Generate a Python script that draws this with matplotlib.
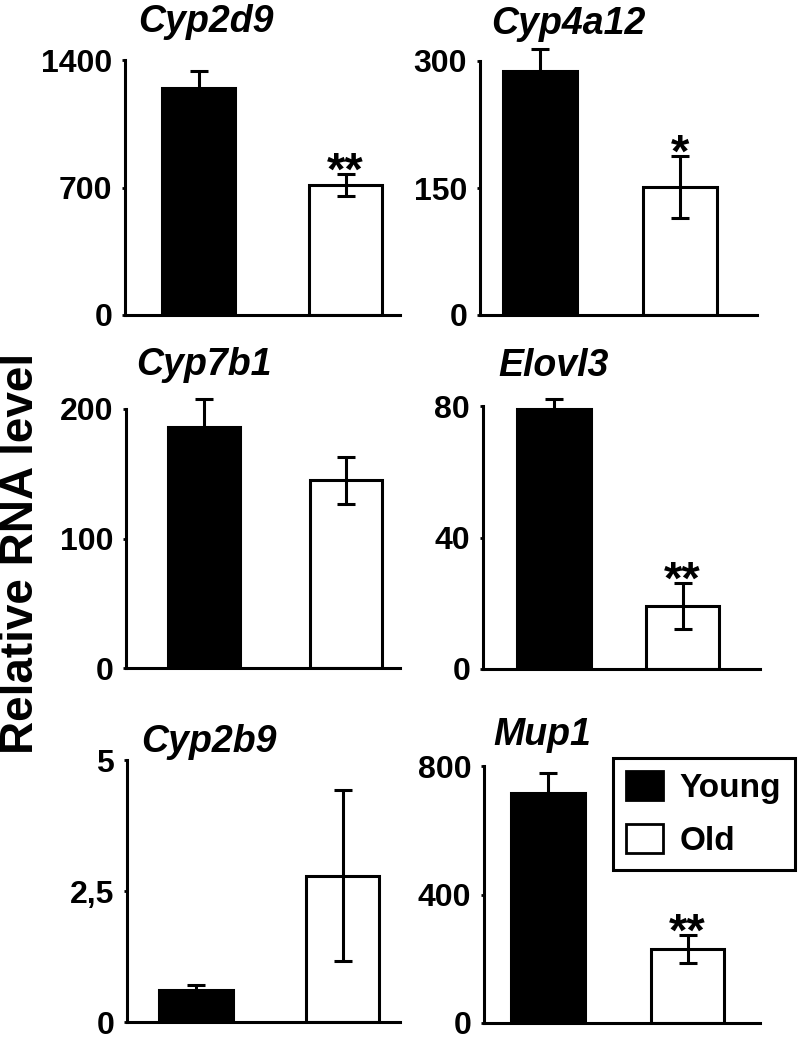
import matplotlib
matplotlib.use("Agg")
import matplotlib.pyplot as plt
from matplotlib.patches import Patch

plt.rcParams['font.family'] = ['Liberation Sans', 'DejaVu Sans']
plt.rcParams['font.weight'] = 'bold'

# data
genes = ["Cyp2d9", "Cyp4a12", "Cyp7b1", "Elovl3", "Cyp2b9", "Mup1"]
young_mean = [1246, 288, 186, 79, 0.61, 716]
young_err = [94, 26, 22, 3, 0.10, 62]
old_mean = [714, 151, 145, 19.2, 2.79, 230]
old_err = [60, 37, 18, 7, 1.63, 44]
stars = ["**", "*", "", "**", "", "**"]
yticks = [[0, 700, 1400], [0, 150, 300], [0, 100, 200],
          [0, 40, 80], [0, 2.5, 5], [0, 400, 800]]
ytick_labels = [["0", "700", "1400"], ["0", "150", "300"], ["0", "100", "200"],
                ["0", "40", "80"], ["0", "2,5", "5"], ["0", "400", "800"]]
groups = ["Young", "Old"]

W, H = 800, 1043
fig = plt.figure(figsize=(W / 100, H / 100), dpi=100)

# axes boxes in pixels: x_left, x_right, y_top, y_bottom
boxes = [(125, 400, 60, 315), (480, 757, 61, 315),
         (126, 400, 409, 668), (483, 760, 406, 669),
         (127, 400, 760, 1022), (484, 760, 766, 1023)]
xlims = [(-0.5, 1.37), (-0.43, 1.55), (-0.55, 1.38),
         (-0.55, 1.6), (-0.47, 1.39), (-0.46, 1.52)]
widths = [0.5, 0.53, 0.51, 0.57, 0.5, 0.53]
title_x = [0.05, 0.2, 0.0, 0.0, 0.09, -0.04]
title_dy = [28, 27, 34, 30, 8, 21]  # px above axes top (baseline)

for i in range(6):
    x0, x1, yt, yb = boxes[i]
    ax = fig.add_axes([x0 / W, 1 - yb / H, (x1 - x0) / W, (yb - yt) / H])
    w = widths[i]
    ax.bar([0], [young_mean[i]], width=w, color='black', edgecolor='black',
           linewidth=2.2, zorder=2)
    ax.bar([1], [old_mean[i]], width=w, color='white', edgecolor='black',
           linewidth=2.2, zorder=2)
    eb = ax.errorbar([0, 1], [young_mean[i], old_mean[i]],
                     yerr=[young_err[i], old_err[i]], fmt='none', ecolor='black',
                     elinewidth=2.2, capsize=6.5, capthick=2.2, zorder=3)
    for art in eb.get_children():
        art.set_clip_on(False)
    if stars[i]:
        ax.annotate(stars[i], xy=(1, old_mean[i] + old_err[i]),
                    xytext=(0, -8), textcoords='offset points',
                    ha='center', va='baseline', fontsize=34,
                    fontweight='bold', zorder=4, annotation_clip=False)
    ax.set_xlim(*xlims[i])
    ax.set_ylim(0, yticks[i][-1])
    ax.set_xticks([])
    ax.set_yticks(yticks[i])
    ax.set_yticklabels(ytick_labels[i], fontsize=23, fontweight='bold')
    ax.tick_params(axis='y', length=2.2, width=2, pad=7)
    for s in ['top', 'right']:
        ax.spines[s].set_visible(False)
    for s in ['left', 'bottom']:
        ax.spines[s].set_linewidth(2.2)
    ax.spines['left'].set_bounds(0, yticks[i][-1])
    ax.patch.set_alpha(0)
    ax.annotate(genes[i], xy=(title_x[i], 1.0),
                xycoords=('data', 'axes fraction'),
                xytext=(0, title_dy[i] * 0.72), textcoords='offset points',
                ha='center', va='baseline', fontsize=27,
                fontweight='bold', fontstyle='italic', annotation_clip=False)

fig.text(21 / W, 1 - 553 / H, "Relative RNA level", rotation=90,
         ha='center', va='center', fontsize=33, fontweight='bold')

handles = [Patch(facecolor='black', edgecolor='black', linewidth=2),
           Patch(facecolor='white', edgecolor='black', linewidth=2)]
leg = fig.legend(handles, groups, loc='upper left',
                 bbox_to_anchor=(613 / W, 1 - 758 / H),
                 prop={'size': 24, 'weight': 'bold'},
                 fancybox=False, edgecolor='black', framealpha=1,
                 handlelength=1.1, handleheight=0.95, handletextpad=0.5,
                 labelspacing=0.6, borderpad=0.4, borderaxespad=0)
leg.get_frame().set_linewidth(2.2)

fig.savefig("out.png", dpi=100)
